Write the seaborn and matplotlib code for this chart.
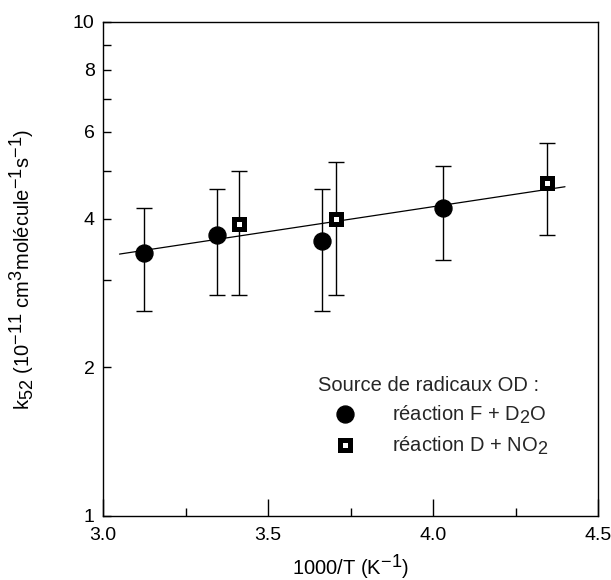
import numpy as np
import pandas as pd
import matplotlib
matplotlib.use("Agg")
import matplotlib.pyplot as plt
import matplotlib._mathtext as _mt
from matplotlib.lines import Line2D
from matplotlib.ticker import FixedLocator, NullFormatter
import seaborn as sns

# ---- data ----
fd2o_x = [3.125, 3.344, 3.663, 4.031]
fd2o_y = [3.41, 3.71, 3.60, 4.20]
fd2o_lo = [2.60, 2.80, 2.60, 3.30]
fd2o_hi = [4.20, 4.60, 4.60, 5.10]

dno2_x = [3.413, 3.705, 4.346]
dno2_y = [3.90, 4.00, 4.72]
dno2_lo = [2.80, 2.80, 3.70]
dno2_hi = [5.00, 5.21, 5.70]

fit_x = [3.05, 4.40]
fit_y = [3.39, 4.64]

y_major = [1, 2, 4, 6, 8, 10]
y_minor = [3, 5, 7, 9]
x_major = [3.0, 3.5, 4.0, 4.5]
x_minor = [3.25, 3.75, 4.25]

legend_title = "Source de radicaux OD :"
label_f = "réaction F + D$_2$O"
label_d = "réaction D + NO$_2$"
xlabel = "1000/T (K$^{-1}$)"
ylabel = "k$_{52}$ (10$^{-11}$ cm$^3$molécule$^{-1}$s$^{-1}$)"

# ---- style ----
sns.set_style("ticks")
plt.rcParams['font.family'] = ['Liberation Sans', 'DejaVu Sans']
plt.rcParams['mathtext.fontset'] = 'custom'
plt.rcParams['mathtext.rm'] = 'Liberation Sans'
plt.rcParams['mathtext.it'] = 'Liberation Sans'
plt.rcParams['mathtext.default'] = 'regular'
# larger sub/superscripts like the reference
_mt.SHRINK_FACTOR = 0.9

FS = 14.5

fig = plt.figure(figsize=(6.11, 5.80), dpi=100)
ax = fig.add_axes([103/611, 64/580, 495/611, 494/580])

df_f = pd.DataFrame({"x": fd2o_x, "y": fd2o_y, "lo": fd2o_lo, "hi": fd2o_hi})
df_d = pd.DataFrame({"x": dno2_x, "y": dno2_y, "lo": dno2_lo, "hi": dno2_hi})
df_fit = pd.DataFrame({"x": fit_x, "y": fit_y})

# fit line
sns.lineplot(data=df_fit, x="x", y="y", ax=ax, color="black", lw=0.9, zorder=2)

# error bars
for d in (df_f, df_d):
    ax.errorbar(d["x"], d["y"], yerr=[d["y"] - d["lo"], d["hi"] - d["y"]],
                fmt="none", ecolor="black", elinewidth=1.0, capsize=6,
                capthick=1.0, zorder=3)

# markers
ax.plot(df_f["x"], df_f["y"], ls="none", marker="o", ms=12.2,
        mfc="black", mec="black", zorder=4)
ax.plot(df_d["x"], df_d["y"], ls="none", marker="s", ms=7.2,
        mfc="white", mec="black", mew=3.6, zorder=4)

ax.set_yscale("log")
ax.set_xlim(3.0, 4.5)
ax.set_ylim(1, 10)

ax.yaxis.set_major_locator(FixedLocator(y_major))
ax.yaxis.set_minor_locator(FixedLocator(y_minor))
ax.yaxis.set_minor_formatter(NullFormatter())
ax.set_yticklabels([str(v) for v in y_major])
ax.xaxis.set_major_locator(FixedLocator(x_major))
ax.xaxis.set_minor_locator(FixedLocator(x_minor))
ax.set_xticklabels([f"{v:.1f}" for v in x_major])

ax.tick_params(axis="y", which="both", direction="in", length=6, width=1,
               labelsize=14, pad=6, color="black", labelcolor="black")
ax.tick_params(axis="x", which="major", direction="in", length=12, width=1,
               labelsize=14, pad=8, color="black", labelcolor="black")
ax.tick_params(axis="x", which="minor", direction="in", length=6, width=1,
               color="black")
for s in ax.spines.values():
    s.set_linewidth(1.0)
    s.set_color("black")
    s.set_visible(True)

ax.set_xlabel(xlabel, fontsize=FS, color="black", labelpad=6)
ax.set_ylabel(ylabel, fontsize=FS, color="black", labelpad=26)

handles = [
    Line2D([], [], ls="none", marker="o", ms=12.2, mfc="black", mec="black"),
    Line2D([], [], ls="none", marker="s", ms=7.2, mfc="white", mec="black", mew=3.6),
]
leg = ax.legend(handles, [label_f, label_d], title=legend_title,
                loc="upper left", bbox_to_anchor=(0.434, 0.283),
                frameon=False, fontsize=FS, title_fontsize=FS,
                handlelength=2.7, handletextpad=1.0, labelspacing=0.43,
                borderpad=0, borderaxespad=0, alignment="left")

fig.savefig("out.png", dpi=100)
